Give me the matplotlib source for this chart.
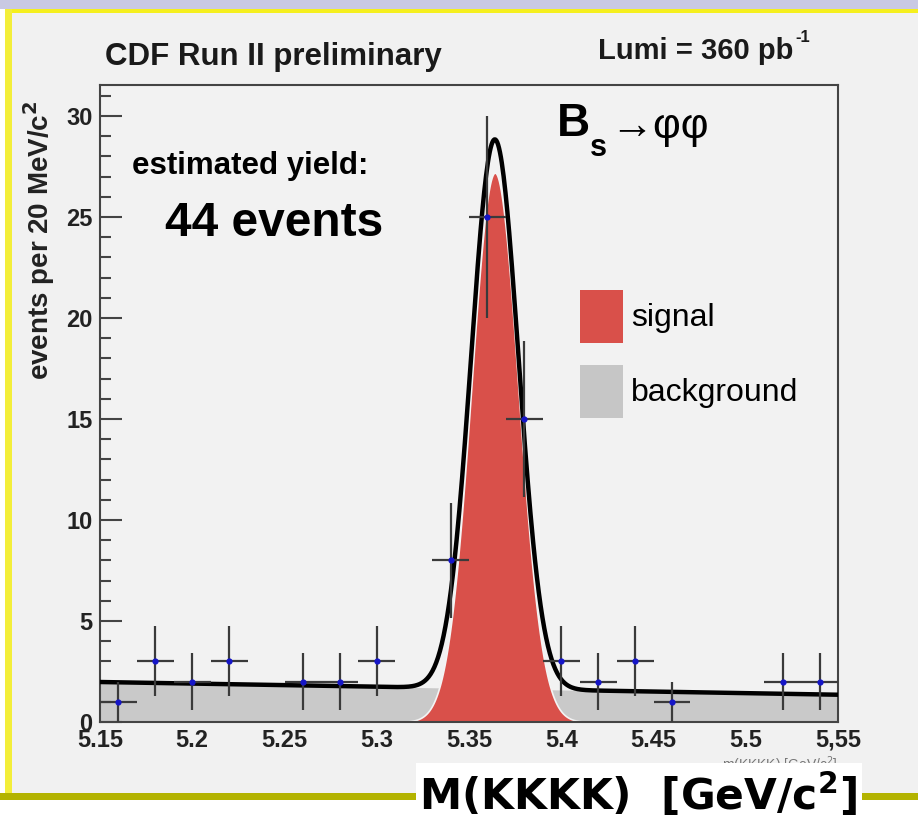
import numpy as np
import matplotlib
matplotlib.use("Agg")
import matplotlib.pyplot as plt
from matplotlib.patches import Rectangle

# binned data (20 MeV bins), empty bins are not drawn
bin_centers = [5.16, 5.18, 5.20, 5.22, 5.26, 5.28, 5.30, 5.34, 5.36, 5.38,
               5.40, 5.42, 5.44, 5.46, 5.52, 5.54]
counts = [1, 3, 2, 3, 2, 2, 3, 8, 25, 15, 3, 2, 3, 1, 2, 2]
bin_half_width = 0.01

# fit parameters
peak_mass = 5.364
peak_sigma = 0.0128
peak_height = 27.2
bkg_left = 1.98
bkg_right = 1.35
x_range = [5.15, 5.55]
x_ticks = [5.15, 5.2, 5.25, 5.3, 5.35, 5.4, 5.45, 5.5, 5.55]
x_ticklabels = ["5.15", "5.2", "5.25", "5.3", "5.35", "5.4", "5.45", "5.5", "5,55"]
y_ticks = [0, 5, 10, 15, 20, 25, 30]

W, H = 918, 822
SANS = ["Liberation Sans", "DejaVu Sans"]

fig = plt.figure(figsize=(W / 100, H / 100), dpi=100, facecolor="white")

def px_rect(x0, y0, x1, y1, color, z):
    # rectangle given in pixel coords (origin top-left)
    fig.patches.append(Rectangle((x0 / W, 1 - y1 / H), (x1 - x0) / W, (y1 - y0) / H,
                                 transform=fig.transFigure, facecolor=color,
                                 edgecolor="none", zorder=z))

def px_text(x, y, s, **kw):
    return fig.text(x / W, 1 - y / H, s, **kw)

# slide decoration
px_rect(0, 0, W, 9, "#c9c9e3", -5)
px_rect(5, 9, W, 797, "#f1f1f1", -5)
px_rect(5, 9, W, 13, "#f5ef1e", -4)
px_rect(5, 9, 12, 795, "#f3ee3a", -4)
px_rect(0, 793, W, 800, "#b3b300", -4)

ax = fig.add_axes([100 / W, 1 - 722 / H, 738 / W, 637 / H])
ax.set_facecolor("#f2f2f2")
ax.set_xlim(x_range)
ax.set_ylim(0, 637 / 20.2)

xs = np.linspace(x_range[0], x_range[1], 800)
bkg = bkg_left + (bkg_right - bkg_left) * (xs - x_range[0]) / (x_range[1] - x_range[0])
sig = peak_height * np.exp(-0.5 * ((xs - peak_mass) / peak_sigma) ** 2)

ax.fill_between(xs, 0, bkg, color="#c9c9c9", lw=0, zorder=1)
sig_mask = sig > 0.02
ax.fill_between(xs[sig_mask], 0, sig[sig_mask], facecolor="#d9504a",
                edgecolor="#f4f4f4", lw=1.2, zorder=2)
ax.plot(xs, bkg + sig, color="black", lw=3.2, zorder=3)

cnt = np.array(counts, dtype=float)
ax.errorbar(bin_centers, cnt, xerr=bin_half_width, yerr=np.sqrt(cnt), fmt="none",
            ecolor="#3a3a3a", elinewidth=1.6, capsize=0, zorder=4)
ax.plot(bin_centers, cnt, "o", color="#1515c8", ms=4.5, mew=0, zorder=5)

for s in ax.spines.values():
    s.set_color("#444444")
    s.set_linewidth(1.5)

ax.set_yticks(y_ticks)
ax.set_yticks(range(0, 32), minor=True)
ax.set_xticks(x_ticks)
ax.set_xticklabels(x_ticklabels)
ax.tick_params(axis="y", which="major", direction="in", length=16, width=1.5,
               color="#444444", pad=5.5)
ax.tick_params(axis="y", which="minor", direction="in", length=8, width=1.5,
               color="#444444")
ax.tick_params(axis="x", which="major", length=0, pad=5)
for lab in ax.get_xticklabels() + ax.get_yticklabels():
    lab.set_fontfamily(SANS)
    lab.set_fontweight("bold")
    lab.set_fontsize(17)
    lab.set_color("#222222")

ax.set_ylabel("events per 20 MeV/c$^{\\mathbf{2}}$", fontfamily=SANS, fontweight="bold",
              fontsize=20, color="#222222")
ax.yaxis.set_label_coords(-0.058, 0.757)

# header texts
px_text(105, 57, "CDF Run II preliminary", fontfamily=SANS, fontweight="bold",
        fontsize=22.5, va="center", ha="left", color="#1a1a1a")
px_text(598, 51, "Lumi = 360 pb", fontfamily=SANS, fontweight="bold",
        fontsize=21, va="center", ha="left", color="#1a1a1a")
px_text(795, 37, "-1", fontfamily=SANS, fontweight="bold",
        fontsize=12, va="center", ha="left", color="#1a1a1a")

# annotations inside the frame
px_text(132, 166, "estimated yield:", fontfamily=SANS, fontweight="bold",
        fontsize=22.5, va="center", ha="left")
px_text(165, 223, "44 events", fontfamily=SANS, fontweight="bold",
        fontsize=34.5, va="center", ha="left")
px_text(557, 124, "B", fontfamily=SANS, fontweight="bold",
        fontsize=33, va="center", ha="left")
px_text(590, 148, "s", fontfamily=SANS, fontweight="bold",
        fontsize=22, va="center", ha="left")
px_text(610, 127, "\u2192\u03c6\u03c6", fontfamily=SANS,
        fontsize=31, va="center", ha="left")

# legend boxes
px_rect(580, 290, 623, 343, "#d9504a", 5)
px_rect(580, 365, 623, 418, "#c6c6c6", 5)
px_text(631, 318, "signal", fontfamily=SANS, fontsize=23,
        va="center", ha="left", zorder=6)
px_text(631, 393, "background", fontfamily=SANS, fontsize=23,
        va="center", ha="left", zorder=6)

# original axis title, mostly covered by the slide label
px_text(838, 765, "m(KKKK) [GeV/c$^2$]", fontfamily=SANS, fontsize=10,
        color="#777777", ha="right", va="center", zorder=1)
px_rect(416, 763, 862, H, "white", 8)
px_text(638, 795, "M(KKKK)  [GeV/c$^{\\mathbf{2}}$]", fontfamily="DejaVu Sans",
        fontweight="bold", fontsize=30.5, ha="center", va="center", zorder=9)

fig.savefig("out.png", dpi=100, facecolor=fig.get_facecolor())
